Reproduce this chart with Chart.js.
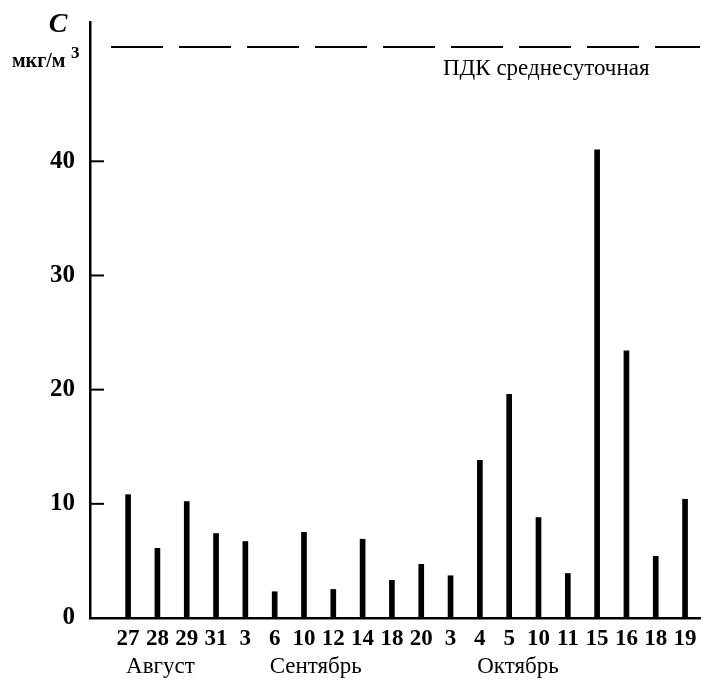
<!DOCTYPE html>
<html>
<head>
<meta charset="utf-8">
<script src="https://cdn.jsdelivr.net/npm/chart.js@4/dist/chart.umd.min.js"></script>
<style>
  body { margin: 0; background: #fff; }
</style>
</head>
<body>
<canvas id="chart" width="705" height="680"></canvas>
<script>
const days = ['27','28','29','31','3','6','10','12','14','18','20','3','4','5','10','11','15','16','18','19'];
const values = [10.8, 6.1, 10.2, 7.4, 6.7, 2.3, 7.5, 2.5, 6.9, 3.3, 4.7, 3.7, 13.8, 19.6, 8.8, 3.9, 41.0, 23.4, 5.4, 10.4];
const yTicks = [0, 10, 20, 30, 40];
const months = ['Август', 'Сентябрь', 'Октябрь'];
const monthAt = [1.1, 6.4, 13.3];
const pdk = 50;
const pdkLabel = 'ПДК среднесуточная';

const serif = '"Liberation Serif", "DejaVu Serif", serif';

// dashed limit line, y tick marks inside the axis, titles and month names
const extras = {
  id: 'extras',
  afterDraw(chart) {
    const {ctx, chartArea, scales} = chart;
    const x = scales.x, y = scales.y;
    ctx.save();
    ctx.strokeStyle = '#000';
    ctx.fillStyle = '#000';

    ctx.lineWidth = 2;
    yTicks.forEach(v => {
      const py = y.getPixelForValue(v);
      ctx.beginPath();
      ctx.moveTo(chartArea.left, py);
      ctx.lineTo(chartArea.left + 14, py);
      ctx.stroke();
    });

    const py = y.getPixelForValue(pdk);
    ctx.setLineDash([52, 16]);
    ctx.beginPath();
    ctx.moveTo(chartArea.left + 21, py);
    ctx.lineTo(chartArea.right, py);
    ctx.stroke();
    ctx.setLineDash([]);

    ctx.textBaseline = 'middle';
    ctx.textAlign = 'left';
    ctx.font = '23px ' + serif;
    ctx.fillText(pdkLabel, 443, py + 22);

    ctx.textAlign = 'center';
    ctx.font = 'italic bold 28px ' + serif;
    ctx.fillText('C', 58, 25);
    ctx.textAlign = 'left';
    ctx.font = 'bold 20px ' + serif;
    ctx.fillText('мкг/м', 12, 62);
    ctx.font = 'bold 17px ' + serif;
    ctx.fillText('3', 71, 54);

    ctx.textAlign = 'center';
    ctx.font = '23px ' + serif;
    months.forEach((m, i) => {
      ctx.fillText(m, x.getPixelForValue(monthAt[i]), 667);
    });
    ctx.restore();
  }
};

new Chart(document.getElementById('chart'), {
  type: 'bar',
  data: {
    datasets: [{
      data: values.map((v, i) => ({x: i, y: v})),
      backgroundColor: '#000',
      barThickness: 5
    }]
  },
  options: {
    responsive: false,
    animation: false,
    layout: { padding: { top: 22, right: 5, left: 0, bottom: 0 } },
    plugins: { legend: { display: false }, tooltip: { enabled: false } },
    scales: {
      x: {
        type: 'linear',
        offset: false,
        min: -1.3,
        max: 19.51,
        afterBuildTicks: s => { s.ticks = days.map((d, i) => ({value: i})); },
        afterFit: s => { s.height = 62; s.paddingLeft = 0; s.paddingRight = 0; },
        grid: { display: false, drawTicks: false },
        border: { display: true, color: '#000', width: 2.5 },
        ticks: {
          autoSkip: false,
          maxRotation: 0,
          padding: 7,
          color: '#000',
          font: { family: serif, size: 23, weight: 'bold' },
          callback: v => days[v]
        }
      },
      y: {
        min: 0,
        max: 52.2,
        afterBuildTicks: s => { s.ticks = yTicks.map(v => ({value: v})); },
        afterFit: s => { s.width = 90; s.paddingTop = 0; s.paddingBottom = 0; },
        grid: { display: false, drawTicks: false },
        border: { display: true, color: '#000', width: 2.5 },
        ticks: {
          padding: 15,
          color: '#000',
          font: { family: serif, size: 25, weight: 'bold' }
        }
      }
    }
  },
  plugins: [extras]
});
</script>
</body>
</html>
